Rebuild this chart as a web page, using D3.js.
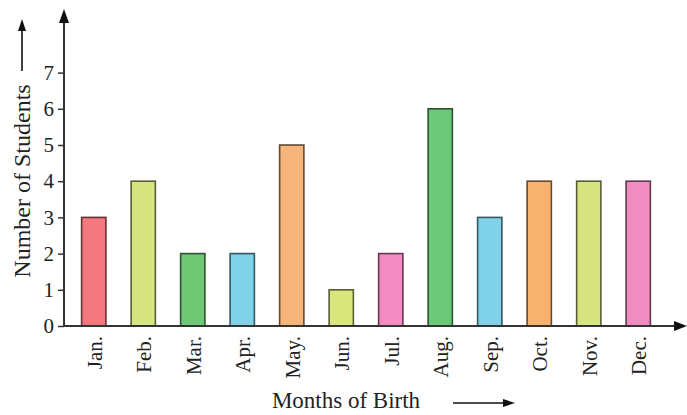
<!DOCTYPE html>
<html>
<head>
<meta charset="utf-8">
<script src="https://cdn.jsdelivr.net/npm/d3@7"></script>
<style>
  html, body { margin: 0; padding: 0; background: #fff; }
  svg text { font-family: "Liberation Serif", "DejaVu Serif", serif; fill: #222; }
</style>
</head>
<body>
<svg id="chart" width="687" height="415"></svg>
<script>
// 월별 출생 학생 수
var months = ['Jan.', 'Feb.', 'Mar.', 'Apr.', 'May.', 'Jun.', 'Jul.', 'Aug.', 'Sep.', 'Oct.', 'Nov.', 'Dec.'];
var students = [3, 4, 2, 2, 5, 1, 2, 6, 3, 4, 4, 4];
var barColors = ['#f5787f', '#d6e482', '#6fc874', '#80d2e8', '#f5b47a', '#d8e67c',
                 '#f38cc2', '#6cc879', '#80d2e8', '#f6b26f', '#d6e482', '#f08cc0'];
var yTicks = [0, 1, 2, 3, 4, 5, 6, 7];

(function () {
    var svg = d3.select('#chart');
    var X0 = 64, BASE = 326;

    var x = d3.scaleBand()
        .domain(months)
        .range([69, 663])
        .paddingInner(0.51)
        .paddingOuter(0.255);

    var y = d3.scaleLinear()
        .domain([0, 7])
        .range([BASE, BASE - 7 * 36.2]);

    // 막대
    svg.append('g').selectAll('rect')
        .data(months)
        .join('rect')
        .attr('x', function (d) { return x(d); })
        .attr('y', function (d, i) { return y(students[i]); })
        .attr('width', x.bandwidth())
        .attr('height', function (d, i) { return BASE - y(students[i]); })
        .attr('fill', function (d, i) { return barColors[i]; })
        .attr('stroke', function (d, i) { return d3.color(barColors[i]).darker(2.5); })
        .attr('stroke-width', 1.6);

    // y 축 (눈금 + 라벨)
    var yAxis = svg.append('g')
        .attr('transform', 'translate(' + X0 + ',0)')
        .call(d3.axisLeft(y).tickValues(yTicks).tickSize(6).tickPadding(4).tickFormat(d3.format('d')));
    yAxis.select('.domain').remove();
    yAxis.selectAll('line').attr('stroke', '#333').attr('stroke-width', 1.5);
    yAxis.selectAll('text')
        .attr('font-size', 21)
        .attr('font-family', '"Liberation Serif", serif')
        .attr('fill', '#222');

    // 축 선 + 화살표
    function arrowHead(tx, ty, dir, len, half) {
        var pts;
        if (dir === 'up') pts = [[tx, ty], [tx - half, ty + len], [tx + half, ty + len]];
        else pts = [[tx, ty], [tx - len, ty - half], [tx - len, ty + half]];
        svg.append('path')
            .attr('d', d3.line()(pts) + 'Z')
            .attr('fill', '#111');
    }

    svg.append('line')
        .attr('x1', X0).attr('y1', BASE + 1).attr('x2', X0).attr('y2', 20)
        .attr('stroke', '#333').attr('stroke-width', 2);
    arrowHead(X0, 9, 'up', 14, 5);

    svg.append('line')
        .attr('x1', X0).attr('y1', BASE).attr('x2', 678).attr('y2', BASE)
        .attr('stroke', '#333').attr('stroke-width', 2);
    arrowHead(687, BASE, 'right', 13, 5);

    // 월 라벨 (세로)
    svg.append('g').selectAll('text')
        .data(months)
        .join('text')
        .attr('transform', function (d) {
            return 'translate(' + (x(d) + x.bandwidth() / 2 + 1) + ',' + (BASE + 10) + ') rotate(-90)';
        })
        .attr('text-anchor', 'end')
        .attr('dy', '0.33em')
        .attr('font-size', 21)
        .text(function (d) { return d; });

    // 축 제목
    svg.append('text')
        .attr('transform', 'translate(22,181) rotate(-90)')
        .attr('text-anchor', 'middle')
        .attr('dy', '0.33em')
        .attr('font-size', 24)
        .text('Number of Students');

    svg.append('line')
        .attr('x1', 22).attr('y1', 71).attr('x2', 22).attr('y2', 28)
        .attr('stroke', '#111').attr('stroke-width', 1.6);
    arrowHead(22, 19, 'up', 12, 4);

    svg.append('text')
        .attr('x', 346).attr('y', 408)
        .attr('text-anchor', 'middle')
        .attr('font-size', 23)
        .text('Months of Birth');

    svg.append('line')
        .attr('x1', 453).attr('y1', 403).attr('x2', 505).attr('y2', 403)
        .attr('stroke', '#111').attr('stroke-width', 1.6);
    arrowHead(515, 403, 'right', 12, 4);
})();
</script>
</body>
</html>
